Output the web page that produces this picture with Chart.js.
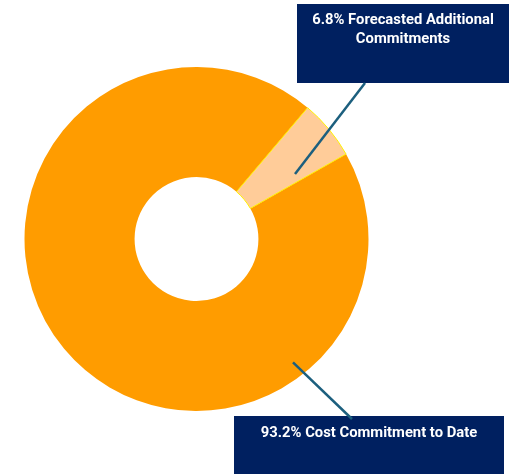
<!DOCTYPE html>
<html>
<head>
<meta charset="utf-8">
<script src="https://cdn.jsdelivr.net/npm/chart.js@4.4.1/dist/chart.umd.min.js"></script>
<style>
  html, body { margin: 0; padding: 0; background: #fff; }
  #wrap { position: relative; width: 515px; height: 474px; }
</style>
</head>
<body>
<div id="wrap"><canvas id="chart" width="515" height="474"></canvas></div>
<script>
// data (slice sizes as drawn)
const categories = ["Cost Commitment to Date", "Forecasted Additional Commitments"];
const shares = [94.4, 5.6];
const labelLines = [
  ["93.2% Cost Commitment to Date"],
  ["6.8% Forecasted Additional", "Commitments"]
];
const sliceColors = ["#FF9C00", "#FFCC99"];

// callout boxes: [x, y, w, h], anchor inside slice as [angle fraction, radius fraction], line end on box
const callouts = [
  { box: [234, 416, 270, 60], textY: 433, anchor: [0.24, 0.86], boxPt: [352, 419] },
  { box: [297, 4, 212, 79], textY: 20, anchor: [0.81, 0.51], boxPt: [365, 83] }
];

const calloutPlugin = {
  id: "callouts",
  afterDraw(chart) {
    const ctx = chart.ctx;
    const arcs = chart.getDatasetMeta(0).data;
    ctx.save();
    callouts.forEach((c, i) => {
      const [x, y, w, h] = c.box;
      ctx.fillStyle = "#002060";
      ctx.fillRect(x, y, w, h);
      ctx.fillStyle = "#ffffff";
      ctx.font = "bold 14.8px Roboto";
      ctx.textAlign = "center";
      ctx.textBaseline = "middle";
      labelLines[i].forEach((t, k) => {
        ctx.fillText(t, x + w / 2, c.textY + k * 19.5);
      });
    });
    callouts.forEach((c, i) => {
      const a = arcs[i];
      const ang = a.startAngle + (a.endAngle - a.startAngle) * c.anchor[0];
      const r = a.innerRadius + (a.outerRadius - a.innerRadius) * c.anchor[1];
      const px = a.x + Math.cos(ang) * r;
      const py = a.y + Math.sin(ang) * r;
      ctx.strokeStyle = "#1C5F7E";
      ctx.lineWidth = 2.5;
      ctx.beginPath();
      ctx.moveTo(px, py);
      ctx.lineTo(c.boxPt[0], c.boxPt[1]);
      ctx.stroke();
    });
    ctx.restore();
  }
};

new Chart(document.getElementById("chart").getContext("2d"), {
  type: "doughnut",
  data: {
    labels: categories,
    datasets: [{
      data: shares,
      backgroundColor: sliceColors,
      borderColor: ["#FF9C00", "#FFF200"],
      borderWidth: [0, 1]
    }]
  },
  options: {
    responsive: false,
    animation: false,
    cutout: "36%",
    rotation: 60.4,
    layout: { padding: { left: 24, right: 146, top: 66, bottom: 62 } },
    plugins: {
      legend: { display: false },
      tooltip: { enabled: false }
    }
  },
  plugins: [calloutPlugin]
});
</script>
</body>
</html>
